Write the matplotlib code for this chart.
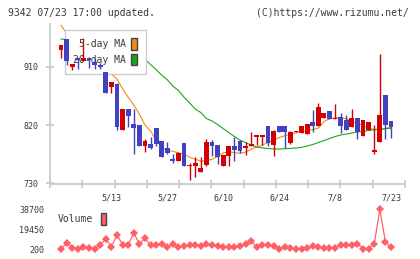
import numpy as np
import matplotlib
matplotlib.use("Agg")
import matplotlib.pyplot as plt
from matplotlib.patches import Patch

# ---------------- data ----------------
date_labels = ["5/13", "5/27", "6/10", "6/24", "7/8", "7/23"]
date_label_idx = [9, 19, 29, 39, 49, 59]

opens = [936, 953, 909, 923, 919, 923, 917, 912, 902, 878,
         884, 812, 845, 822, 820, 787, 791, 815, 796, 785,
         768, 765, 793, 756, 757, 748, 758, 794, 789, 756,
         772, 788, 795, 785, 787, 802, 802, 819, 789, 819,
         819, 793, 809, 808, 806, 825, 819, 831, 841, 829,
         832, 828, 817, 831, 803, 813, 779, 794, 866, 826]
highs = [944, 953, 914, 923, 954, 925, 923, 916, 902, 887,
         885, 845, 845, 845, 820, 798, 802, 815, 796, 794,
         776, 778, 793, 762, 771, 771, 798, 797, 789, 774,
         788, 802, 795, 794, 810, 805, 804, 819, 812, 819,
         819, 811, 811, 819, 822, 843, 854, 839, 841, 852,
         838, 836, 845, 831, 828, 825, 820, 930, 866, 826]
lows = [923, 912, 905, 907, 919, 908, 907, 907, 870, 870,
        812, 812, 817, 776, 787, 778, 783, 787, 771, 776,
        761, 765, 757, 735, 740, 748, 756, 772, 760, 756,
        757, 764, 777, 773, 787, 789, 789, 788, 772, 810,
        784, 790, 809, 808, 806, 810, 819, 831, 829, 829,
        808, 813, 817, 798, 803, 812, 776, 794, 798, 800]
closes = [943, 919, 914, 920, 923, 920, 912, 909, 870, 887,
          817, 845, 834, 815, 787, 796, 785, 791, 771, 777,
          764, 777, 757, 758, 762, 754, 794, 788, 771, 774,
          788, 781, 780, 788, 791, 805, 804, 793, 811, 810,
          810, 810, 811, 819, 822, 819, 848, 839, 829, 831,
          819, 813, 831, 810, 828, 825, 781, 835, 820, 817]

ma5 = [974, 962, 948, 935, 924, 919, 916, 913, 905, 899,
       891, 876, 863, 851, 837, 820, 811, 797, 786, 781,
       779.5, 777, 775, 770, 767.5, 764, 765.5, 767, 771.7, 777,
       778.5, 777.5, 776.3, 778.3, 782.4, 786, 789, 793, 797, 800.7,
       803.5, 806, 808, 810, 811.4, 813, 815.4, 825.3, 829.7, 831,
       831.8, 829.4, 826, 823, 819, 815, 813.4, 813.4, 814.6, 817.4]
ma20 = [952.8, 952, 951, 950, 949, 948, 946, 944, 942, 940,
        937.5, 935, 932, 929, 925.5, 921.6, 913.4, 905.7, 897, 890,
        880, 873.3, 863, 854, 844.7, 839.3, 830, 826.2, 820.8, 814.6,
        808.4, 802.3, 796.8, 793, 789, 786, 784.8, 783.7, 783, 783,
        783.4, 784, 784.5, 785.6, 787.6, 789.9, 793, 796, 799.2, 802.3,
        804.6, 806.1, 807.7, 809.2, 810.3, 811.5, 812.6, 813.5, 814.4, 815]

volume = [500, 6260, 1930, 780, 2700, 1160, 780, 4340, 10110, 2700,
          13960, 4820, 4050, 16180, 5300, 10790, 4150, 4150, 5300, 2130,
          5300, 2130, 3570, 3860, 4150, 3570, 5300, 4150, 3570, 2410,
          2700, 2130, 3380, 5110, 8380, 2130, 4150, 4150, 3380, 300,
          2410, 1160, 250, 200, 1930, 3180, 2410, 1260, 1160, 1930,
          4240, 4240, 4240, 5300, 970, 970, 5300, 38700, 7230, 2130]

price_ticks = [730, 820, 910]
vol_ticks = [200, 19450, 38700]

# ---------------- style ----------------
W, H = 420, 259
RED = "#d20000"
BLUE = "#4242c0"
ORANGE = "#f08c10"
GREEN = "#18a818"
VOLC = "#ff6064"
AXC = "#cccccc"
TXT = "#3a3a3a"
MONO = "DejaVu Sans Mono"

fig = plt.figure(figsize=(W / 100, H / 100), dpi=100)
fig.patch.set_facecolor("white")

def frac_box(x0, y0, x1, y1):
    return [x0 / W, 1 - y1 / H, (x1 - x0) / W, (y1 - y0) / H]

ax = fig.add_axes(frac_box(50, 24, 405, 184.3))
vax = fig.add_axes(frac_box(50, 205, 405, 253))

n = len(closes)
x = np.arange(n)
xlo, xhi = -1.97, 61.5

# MA lines (under legend)
ax.plot(x, ma5, color=ORANGE, lw=0.8, zorder=2)
ax.plot(x, ma20, color=GREEN, lw=0.8, zorder=2)

# candles (above legend)
o = np.array(opens, float)
c = np.array(closes, float)
hi = np.array(highs, float)
lo = np.array(lows, float)
up = c >= o
cols = np.where(up, RED, BLUE)
ax.vlines(x, lo, hi, colors=cols, lw=1.0, zorder=4)
body_b = np.minimum(o, c)
body_h = np.maximum(np.abs(c - o), 1.2)
ax.bar(x, body_h, bottom=body_b, width=0.86, color=cols, linewidth=0, zorder=5)

ax.set_xlim(xlo, xhi)
ax.set_ylim(728.5, 976)
ax.set_facecolor("none")
for s in ["top", "right"]:
    ax.spines[s].set_visible(False)
for s in ["left", "bottom"]:
    ax.spines[s].set_color(AXC)
    ax.spines[s].set_linewidth(1.3)

ax.set_yticks(price_ticks)
ax.set_yticklabels([str(v) for v in price_ticks])
ax.tick_params(axis="y", direction="inout", length=6, width=1.3, color=AXC,
               pad=5, labelsize=6, labelcolor=TXT)
for t in ax.get_yticklabels():
    t.set_fontfamily(MONO)

ax.set_xticks(np.linspace(xlo, xhi, 12))
ax.set_xticklabels([])
ax.tick_params(axis="x", which="major", direction="inout", length=5.5, width=1.3, color=AXC)
ax.set_xticks(date_label_idx, minor=True)
ax.set_xticklabels(date_labels, minor=True)
ax.tick_params(axis="x", which="minor", length=0, pad=6.5, labelsize=6, labelcolor=TXT)
for t in ax.get_xticklabels(minor=True):
    t.set_fontfamily(MONO)

fs = 7
fspx = fs * 100 / 72
handles = [Patch(facecolor=ORANGE, edgecolor="#444444", lw=1.0),
           Patch(facecolor=GREEN, edgecolor="#444444", lw=1.0)]
leg = ax.legend(handles, ["5-day MA", "20-day MA"], loc="upper left",
                bbox_to_anchor=(15 / 355, 1 - 6 / 160.3), borderaxespad=0,
                markerfirst=False, fancybox=False, framealpha=1,
                edgecolor="#cccccc", facecolor="white",
                prop={"family": MONO, "size": fs},
                handlelength=6 / fspx, handleheight=14 / fspx,
                handletextpad=0.55, labelspacing=0.42, borderpad=0.85)
leg.get_frame().set_linewidth(1.0)
for t in leg.get_texts():
    t.set_color(TXT)
leg.set_zorder(3)

# volume panel
vax.plot(x, volume, color=VOLC, lw=0.9, marker="D", markersize=4,
         markeredgewidth=0, markerfacecolor=VOLC)
vax.set_xlim(xlo, xhi)
vax.set_ylim(200 - 3.7 * 962.5, 38700 + 4.3 * 962.5)
for s in vax.spines.values():
    s.set_visible(False)
vax.set_xticks([])
vax.set_yticks(vol_ticks)
vax.set_yticklabels([str(v) for v in vol_ticks])
vax.tick_params(axis="y", length=0, pad=4.3, labelsize=6, labelcolor=TXT)
for t in vax.get_yticklabels():
    t.set_fontfamily(MONO)
vax.set_facecolor("none")

vleg = vax.legend([Patch(facecolor=VOLC, edgecolor="#444444", lw=1.0)], ["Volume"],
                  loc="upper left", bbox_to_anchor=(8 / 355, 1 - 8 / 48),
                  borderaxespad=0, borderpad=0, frameon=False, markerfirst=False,
                  prop={"family": MONO, "size": fs},
                  handlelength=5.6 / fspx, handleheight=15 / fspx,
                  handletextpad=0.75)
for t in vleg.get_texts():
    t.set_color(TXT)

# header texts
fig.text(8 / W, 1 - 12.7 / H, "9342 07/23 17:00 updated.", family=MONO, size=7,
         color=TXT, ha="left", va="center")
fig.text(409 / W, 1 - 12.7 / H, "(C)https://www.rizumu.net/", family=MONO, size=7,
         color=TXT, ha="right", va="center")

fig.savefig("out.png", dpi=100, facecolor="white")
